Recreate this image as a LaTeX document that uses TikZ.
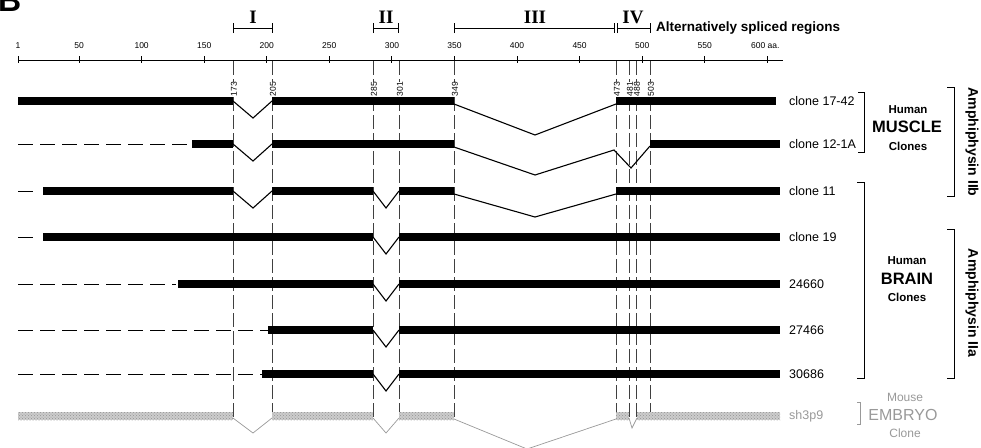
\documentclass[tikz,border=0pt]{standalone}
\usepackage{fontspec}
\setmainfont{Liberation Sans}
\newfontfamily\romanfont{Liberation Serif}
\usetikzlibrary{positioning,calc,arrows.meta,patterns}

\begin{document}
\begin{tikzpicture}[x=1pt, y=-1pt,
  exonbar/.style={line width=8.5pt, black},
  skipline/.style={line width=1.1pt, black, line join=miter},
  leadline/.style={line width=1pt, black, dash pattern=on 15pt off 7pt},
  guideline/.style={line width=0.6pt, black!75, dash pattern=on 14pt off 4pt},
  greybar/.style={fill=gray!40, draw=none, postaction={pattern=crosshatch dots, pattern color=gray!85}},
  greyline/.style={line width=0.7pt, gray!80},
  sitelabel/.style={rotate=90, font=\fontsize{8.5}{9}\selectfont, fill=white, inner sep=0.3pt},
  ticklabel/.style={font=\fontsize{8.5}{10}\selectfont, inner sep=0pt},
  clonelabel/.style={anchor=west, font=\fontsize{12.5}{14}\selectfont, inner sep=0pt},
  regionbar/.style={line width=1pt, {Bar[width=10pt]}-{Bar[width=10pt]}},
  romanlabel/.style={font=\romanfont\bfseries\fontsize{19}{21}\selectfont, inner sep=0pt},
  bracketline/.style={line width=1pt, black},
  grouptext/.style={font=\bfseries\fontsize{11.5}{13}\selectfont, inner sep=0pt},
  groupname/.style={font=\bfseries\fontsize{16.5}{18}\selectfont, inner sep=0pt}]

\useasboundingbox (0,0) rectangle (981,447);
\clip (0,0) rectangle (981,447);

% Panel letter
\node[font=\bfseries\fontsize{32}{34}\selectfont, anchor=base west, inner sep=0pt] (panel) at (-2,11) {B};

% Residue scale
\draw[line width=0.9pt] (18,60) -- (783,60);
\node[ticklabel] (t1) at (18,46) {1};
\draw[line width=0.9pt] (18,56) -- (18,63);
\foreach \r in {50,100,...,550}{
  \draw[line width=0.9pt] ({16.5+\r*1.2513},56) -- ({16.5+\r*1.2513},63);
  \node[ticklabel] (t\r) at ({16.5+\r*1.2513},46) {\r};
}
\draw[line width=0.9pt] (767,56) -- (767,63);
\node[ticklabel, anchor=west] (t600) at (751,46) {600 aa.};

% Alternatively spliced regions
\draw[regionbar] (233,28) -- (273,28);
\draw[regionbar] (373,28) -- (399,28);
\draw[regionbar] (454,28) -- (615,28);
\draw[regionbar] (617,28) -- (651,28);
\node[romanlabel] (rI) at (253,17) {I};
\node[romanlabel] (rII) at (386,17) {II};
\node[romanlabel] (rIII) at (535,17) {III};
\node[romanlabel] (rIV) at (633,17) {IV};
\node[anchor=west, font=\bfseries\fontsize{13.5}{15}\selectfont, inner sep=0pt] (alt) at (656,28) {Alternatively spliced regions};

% Splice site guides
\foreach \x/\n in {233/173, 272/205, 373/285, 399/301, 454/349, 616/473, 629/481, 636/488, 650/503}{
  \draw[guideline] (\x,61) -- (\x,420);
  \node[sitelabel] (s\n) at (\x+1,89) {\n};
}

% Human muscle clones
\draw[exonbar] (18,101) -- (233,101);
\draw[skipline] (233,101) -- (253,118) -- (272,101);
\draw[exonbar] (272,101) -- (454,101);
\draw[skipline] (454,104) -- (535,135) -- (616,104);
\draw[exonbar] (616,101) -- (776,101);
\node[clonelabel] (c1742) at (789,101) {clone 17-42};

\draw[leadline] (18,144) -- (192,144);
\draw[exonbar] (192,144) -- (233,144);
\draw[skipline] (233,144) -- (253,161) -- (272,144);
\draw[exonbar] (272,144) -- (454,144);
\draw[skipline] (454,147) -- (535,175) -- (614,150) -- (631,168) -- (650,146);
\draw[exonbar] (650,144) -- (780,144);
\node[clonelabel] (c121a) at (789,144) {clone 12-1A};

% Human brain clones
\draw[leadline] (18,191) -- (35,191);
\draw[exonbar] (43,191) -- (233,191);
\draw[skipline] (233,191) -- (253,208) -- (272,191);
\draw[exonbar] (272,191) -- (373,191);
\draw[exonbar] (399,191) -- (454,191);
\draw[skipline] (454,194) -- (535,217) -- (616,194);
\draw[exonbar] (616,191) -- (780,191);
\node[clonelabel] (c11) at (789,191) {clone 11};

\draw[leadline] (18,237) -- (35,237);
\draw[exonbar] (43,237) -- (373,237);
\draw[exonbar] (399,237) -- (780,237);
\node[clonelabel] (c19) at (789,237) {clone 19};

\draw[leadline] (18,284) -- (176,284);
\draw[exonbar] (178,284) -- (373,284);
\draw[exonbar] (399,284) -- (780,284);
\node[clonelabel] (c24660) at (789,284) {24660};

\draw[leadline] (18,330) -- (268,330);
\draw[exonbar] (268,330) -- (373,330);
\draw[exonbar] (399,330) -- (780,330);
\node[clonelabel] (c27466) at (789,330) {27466};

\draw[leadline] (18,374) -- (262,374);
\draw[exonbar] (262,374) -- (373,374);
\draw[exonbar] (399,374) -- (780,374);
\node[clonelabel] (c30686) at (789,374) {30686};

\foreach \y in {191,237,284,330,374}{
  \draw[skipline] (373,\y) -- (386,\y+17) -- (399,\y);
}

% Mouse embryo clone
\path[greybar] (18,412) rectangle (233,420);
\path[greybar] (272,412) rectangle (373,420);
\path[greybar] (399,412) rectangle (454,420);
\path[greybar] (616,412) rectangle (629,420);
\path[greybar] (637,412) rectangle (780,420);
\draw[greyline] (233,418) -- (253,433) -- (272,418);
\draw[greyline] (373,418) -- (386,433) -- (399,418);
\draw[greyline] (454,419) -- (527,449) -- (616,419);
\draw[greyline] (629,418) -- (632,428) -- (637,418);
\node[clonelabel, text=gray!80] (csh3p9) at (789,416) {sh3p9};

% Group brackets
\draw[bracketline] (858,92) -- (864,92) -- (864,152) -- (858,152);
\node[grouptext] (mhuman) at (908,110) {Human};
\node[groupname] (mname) at (907,127) {MUSCLE};
\node[grouptext] (mclones) at (908,146) {Clones};

\draw[bracketline] (857,182) -- (864,182) -- (864,378) -- (857,378);
\node[grouptext] (bhuman) at (907,261) {Human};
\node[groupname] (bname) at (907,279) {BRAIN};
\node[grouptext] (bclones) at (907,297) {Clones};

\draw[bracketline, gray!80, line width=0.7pt] (857,402) -- (860,402) -- (860,424) -- (857,424);
\node[font=\fontsize{12}{14}\selectfont, text=gray!80, inner sep=0pt] (emouse) at (905,397) {Mouse};
\node[font=\fontsize{16}{18}\selectfont, text=gray!80, inner sep=0pt] (ename) at (903,415) {EMBRYO};
\node[font=\fontsize{12}{14}\selectfont, text=gray!80, inner sep=0pt] (eclone) at (905,433) {Clone};

% Amphiphysin isoforms
\draw[bracketline] (947,87) -- (954,87) -- (954,196) -- (947,196);
\node[grouptext, rotate=-90, font=\bfseries\fontsize{14}{16}\selectfont] (iib) at (972,142) {Amphiphysin IIb};
\draw[bracketline] (947,229) -- (954,229) -- (954,378) -- (947,378);
\node[grouptext, rotate=-90, font=\bfseries\fontsize{14}{16}\selectfont] (iia) at (972,303) {Amphiphysin IIa};

\end{tikzpicture}
\end{document}
